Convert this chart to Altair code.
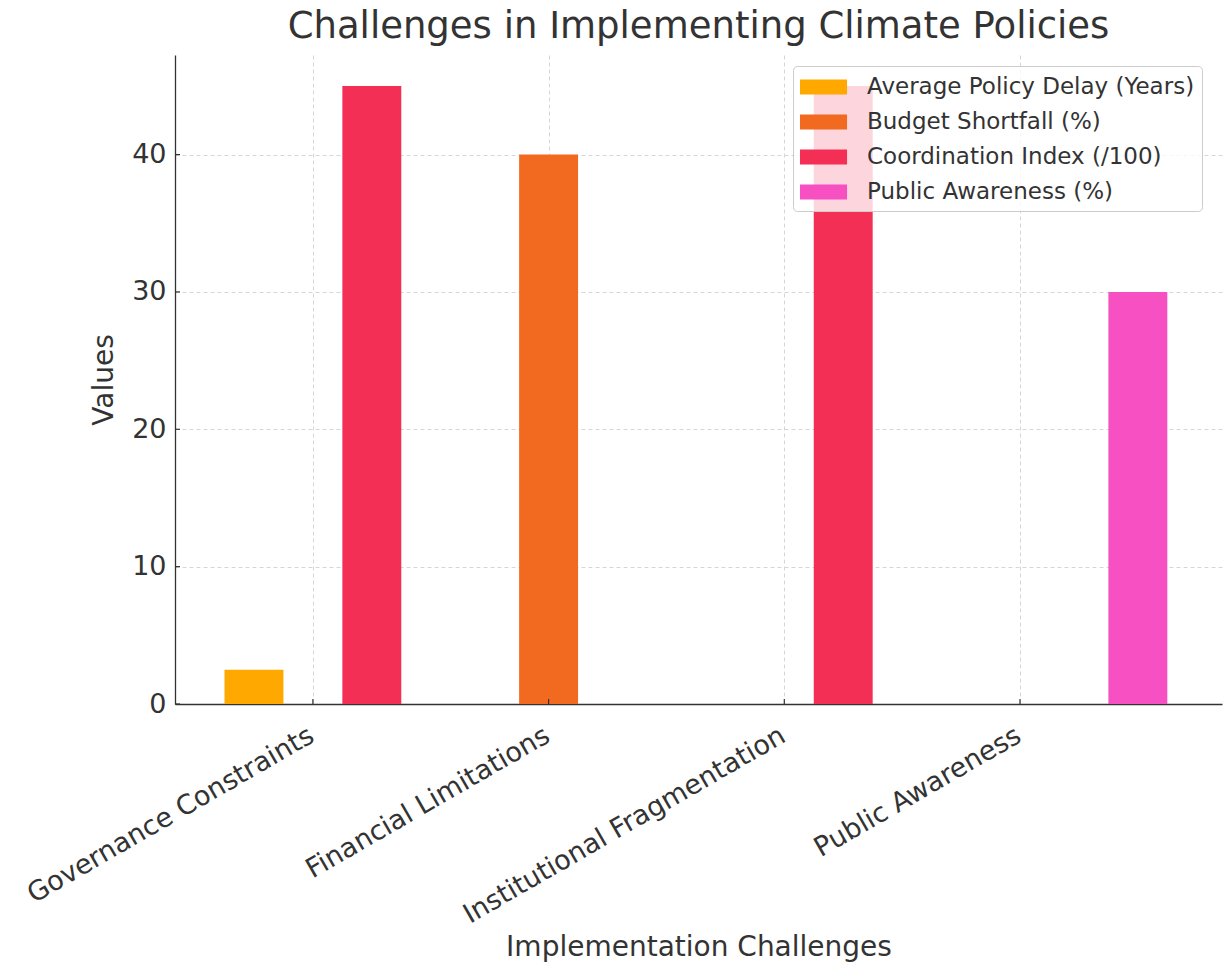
import altair as alt
import pandas as pd

# Implementation challenges on the x axis, one bar per indicator
categories = [
    "Governance Constraints",
    "Financial Limitations",
    "Institutional Fragmentation",
    "Public Awareness",
]
series = [
    "Average Policy Delay (Years)",
    "Budget Shortfall (%)",
    "Coordination Index (/100)",
    "Public Awareness (%)",
]
policy_delay = [2.5, 0, 0, 0]
budget_shortfall = [0, 40, 0, 0]
coordination_index = [45, 0, 45, 0]
public_awareness = [0, 0, 0, 30]
colors = ["#FFA800", "#F26A1F", "#F42F55", "#F650C3"]

y_ticks = [0, 10, 20, 30, 40]

FONT = "DejaVu Sans"
TEXT = "#333333"
BAR_WIDTH = 0.25

# Grouped bars: series i sits at category + (i - 1) * BAR_WIDTH
rows = []
for s_idx, (name, vals) in enumerate(
    zip(series, [policy_delay, budget_shortfall, coordination_index, public_awareness])
):
    for c_idx, v in enumerate(vals):
        center = c_idx + (s_idx - 1) * BAR_WIDTH
        rows.append(
            {
                "category": categories[c_idx],
                "series": name,
                "value": v,
                "x0": center - BAR_WIDTH / 2,
                "x1": center + BAR_WIDTH / 2,
            }
        )
df = pd.DataFrame(rows)

label_expr = "[" + ", ".join(f"'{c}'" for c in categories) + "][datum.value]"

W, H = 1047, 649
x_scale = alt.Scale(domain=[-0.585, 3.857], nice=False, zero=False)
y_scale = alt.Scale(domain=[0, 47.25], nice=False)

x_axis = alt.Axis(
    values=list(range(len(categories))),
    labelExpr=label_expr,
    labelAngle=-30,
    labelAlign="right",
    labelBaseline="top",
    labelPadding=18,
    labelOffset=-8,
    labelLimit=600,
    labelOverlap=False,
    labelBound=False,
    labelFlush=False,
    title="Implementation Challenges",
    titleX=W / 2,
    titleY=243,
    titleBaseline="middle",
    titleAlign="center",
)
y_axis = alt.Axis(
    values=y_ticks,
    title="Values",
    labelPadding=9,
    titleX=-71,
    titleY=H / 2,
    titleAngle=270,
    titleBaseline="middle",
    titleAlign="center",
)

bars = alt.Chart(df).mark_bar(cornerRadius=0).encode(
    x=alt.X("x0:Q", scale=x_scale, axis=x_axis),
    x2="x1:Q",
    y=alt.Y("value:Q", scale=y_scale, axis=y_axis),
    y2=alt.datum(0),
    color=alt.Color(
        "series:N",
        scale=alt.Scale(domain=series, range=colors),
        legend=alt.Legend(
            title=None,
            orient="none",
            legendX=618,
            legendY=11,
            symbolType="M-1,-0.535H2.36V0.535H-1Z",
            symbolSize=784,
            symbolStrokeWidth=0,
            labelFont=FONT,
            labelFontSize=23,
            labelColor=TEXT,
            labelLimit=500,
            labelOffset=39,
            rowPadding=9,
            padding=7,
            fillColor="rgba(255,255,255,0.8)",
            strokeColor="#cccccc",
            cornerRadius=4,
        ),
    ),
)

# inward tick marks on both axes (same encodings so the axes merge)
tick_y = pd.DataFrame({"value": y_ticks})
y_tick_marks = alt.Chart(tick_y).mark_rule(color=TEXT, strokeWidth=1.2).encode(
    y=alt.Y("value:Q", scale=y_scale, axis=y_axis),
    x=alt.value(0),
    x2=alt.value(5),
)
tick_x = pd.DataFrame({"x0": list(range(len(categories)))})
x_tick_marks = alt.Chart(tick_x).mark_rule(color=TEXT, strokeWidth=1.2).encode(
    x=alt.X("x0:Q", scale=x_scale, axis=x_axis),
    y=alt.value(H),
    y2=alt.value(H - 5),
)

chart = (
    alt.layer(bars, y_tick_marks, x_tick_marks)
    .properties(
        width=W,
        height=H,
        autosize=alt.AutoSizeParams(type="none"),
        padding={"left": 175, "top": 55, "right": 3, "bottom": 262},
        title=alt.Title(
            "Challenges in Implementing Climate Policies",
            font=FONT,
            fontSize=37,
            fontWeight="normal",
            color=TEXT,
            anchor="middle",
            frame="group",
            baseline="alphabetic",
            offset=15,
            dy=35,
        ),
    )
    .configure_view(stroke=None)
    .configure_axis(
        domainColor=TEXT,
        domainWidth=1.3,
        gridColor="#d6d6d6",
        gridDash=[4, 3],
        gridWidth=1,
        tickSize=0,
        labelFont=FONT,
        labelFontSize=27,
        labelColor=TEXT,
        titleFont=FONT,
        titleFontSize=28,
        titleColor=TEXT,
        titleFontWeight="normal",
    )
)

chart.save("out.html", embed_options={"renderer": "svg", "actions": False})
